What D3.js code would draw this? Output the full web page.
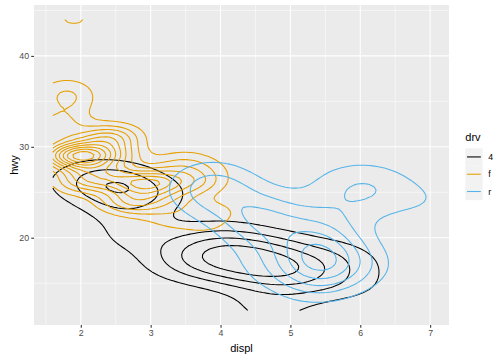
<!DOCTYPE html>
<html>
<head>
<meta charset="utf-8">
<script src="https://cdn.jsdelivr.net/npm/d3@7"></script>
<style>
  body { margin: 0; background: #fff; }
  svg { display: block; font-family: "Liberation Sans", Arial, sans-serif; }
</style>
</head>
<body>
<div id="chart"></div>
<script>
// mpg data: engine displacement, highway mpg, drive train (one entry per car)
const displ = [
  1.8,1.8,2.0,2.0,2.8,2.8,3.1,1.8,1.8,2.0,2.0,2.8,2.8,3.1,3.1,2.8,3.1,4.2,
  5.3,5.3,5.3,5.7,6.0,5.7,5.7,6.2,6.2,7.0,5.3,5.3,5.7,6.5,2.4,2.4,3.1,3.5,3.6,
  2.4,3.0,3.3,3.3,3.3,3.3,3.3,3.8,3.8,3.8,4.0,
  3.7,3.7,3.9,3.9,4.7,4.7,4.7,5.2,5.2,
  3.9,4.7,4.7,4.7,5.2,5.7,5.9,
  4.7,4.7,4.7,4.7,4.7,4.7,5.2,5.2,5.7,5.9,
  4.6,5.4,5.4,4.0,4.0,4.0,4.0,4.6,5.0,4.2,4.2,4.6,4.6,4.6,5.4,5.4,
  3.8,3.8,4.0,4.0,4.6,4.6,4.6,4.6,5.4,
  1.6,1.6,1.6,1.6,1.6,1.8,1.8,1.8,2.0,
  2.4,2.4,2.4,2.4,2.5,2.5,3.3,2.0,2.0,2.0,2.0,2.7,2.7,2.7,
  3.0,3.7,4.0,4.7,4.7,4.7,5.7,6.1,
  4.0,4.2,4.4,4.6,
  5.4,5.4,5.4,
  4.0,4.0,4.6,5.0,
  2.4,2.4,2.5,2.5,3.5,3.5,3.0,3.0,3.5,3.3,3.3,4.0,5.6,
  3.1,3.8,3.8,3.8,5.3,
  2.5,2.5,2.5,2.5,2.5,2.5,2.2,2.2,2.5,2.5,2.5,2.5,2.5,2.5,
  2.7,2.7,3.4,3.4,4.0,4.7,2.2,2.2,2.4,2.4,3.0,3.0,3.5,
  2.2,2.2,2.4,2.4,3.0,3.0,3.3,1.8,1.8,1.8,1.8,1.8,4.7,5.7,
  2.7,2.7,2.7,3.4,3.4,4.0,4.0,
  2.0,2.0,2.0,2.0,2.8,1.9,2.0,2.0,2.0,2.0,2.5,2.5,2.8,2.8,
  1.9,1.9,2.0,2.0,2.5,2.5,1.8,1.8,2.0,2.0,2.8,2.8,3.6
];
const hwy = [
  29,29,31,30,26,26,27,26,25,28,27,25,25,25,25,24,25,23,
  20,15,20,17,17,26,23,26,25,24,19,14,15,17,27,30,26,29,26,
  24,24,22,22,24,24,17,22,21,23,23,
  19,18,17,17,19,19,12,17,15,
  17,17,12,17,16,18,15,
  16,12,17,17,16,12,15,16,17,15,
  17,17,18,17,19,17,19,19,17,17,17,16,16,17,15,17,
  26,25,26,24,21,22,23,22,20,
  33,32,32,29,32,34,36,36,29,
  26,27,30,31,26,26,28,26,29,28,27,24,24,24,
  22,19,20,17,12,19,18,14,
  15,18,18,15,
  17,16,18,
  17,19,19,17,
  29,27,31,32,27,26,26,25,25,17,17,20,18,
  26,26,27,28,25,
  25,24,27,25,26,23,26,26,26,26,27,23,27,26,
  20,20,19,17,20,19,29,27,31,31,26,26,28,
  27,29,31,31,26,26,27,30,33,35,37,35,15,18,
  20,20,22,17,19,18,20,
  29,26,29,29,24,44,29,26,29,29,29,29,23,24,
  44,41,29,26,28,29,29,29,28,29,26,26,26
];
const drv = [
  "f","f","f","f","f","f","f","4","4","4","4","4","4","4","4","4","4","4",
  "r","r","r","r","r","r","r","r","r","r","4","4","4","4","f","f","f","f","f",
  "f","f","f","f","f","f","f","f","f","f","f",
  "4","4","4","4","4","4","4","4","4",
  "4","4","4","4","4","4","4",
  "4","4","4","4","4","4","4","4","4","4",
  "r","r","r","4","4","4","4","4","4","4","4","4","4","4","4","4",
  "r","r","r","r","r","r","r","r","r",
  "f","f","f","f","f","f","f","f","f",
  "f","f","f","f","f","f","f","f","f","f","f","f","f","f",
  "4","4","4","4","4","4","4","4",
  "4","4","4","4",
  "r","r","r",
  "4","4","4","4",
  "f","f","f","f","f","f","f","f","f","4","4","4","4",
  "f","f","f","f","f",
  "4","4","4","4","4","4","4","4","4","4","4","4","4","4",
  "4","4","4","4","4","4","f","f","f","f","f","f","f",
  "f","f","f","f","f","f","f","f","f","f","f","f","4","4",
  "4","4","4","4","4","4","4",
  "f","f","f","f","f","f","f","f","f","f","f","f","f","f",
  "f","f","f","f","f","f","f","f","f","f","f","f","f"
];

const groups = ["4", "f", "r"];
const groupColors = ["#000000", "#E69F00", "#56B4E9"];
const xTicks = [2, 3, 4, 5, 6, 7];
const yTicks = [20, 30, 40];

const W = 504, H = 360;
const panel = { left: 34, right: 449, top: 5, bottom: 325 };
const N = 100; // kde grid size, as MASS::kde2d default in ggplot

// MASS::bandwidth.nrd
function bandwidthNrd(v) {
  const s = v.slice().sort(d3.ascending);
  const iqr = (d3.quantile(s, 0.75) - d3.quantile(s, 0.25)) / 1.34;
  return 4 * 1.06 * Math.min(d3.deviation(v), iqr) * Math.pow(v.length, -1 / 5);
}

// R's pretty() with default bias, enough for contour breaks
function rPretty(lo, hi, n) {
  const cell = (hi - lo) / n;
  const U = Math.pow(10, Math.floor(Math.log10(cell)));
  let unit = U;
  if (2 * U - cell < 1.5 * (cell - unit)) {
    unit = 2 * U;
    if (5 * U - cell < 2.75 * (cell - unit)) {
      unit = 5 * U;
      if (10 * U - cell < 1.5 * (cell - unit)) unit = 10 * U;
    }
  }
  const a = Math.floor(lo / unit + 1e-7), b = Math.ceil(hi / unit - 1e-7);
  return d3.range(a, b + 1).map(k => k * unit);
}

const xLim = d3.extent(displ), yLim = d3.extent(hwy);
const gx = d3.range(N).map(i => xLim[0] + i * (xLim[1] - xLim[0]) / (N - 1));
const gy = d3.range(N).map(j => yLim[0] + j * (yLim[1] - yLim[0]) / (N - 1));
const dnorm = u => Math.exp(-0.5 * u * u) / Math.sqrt(2 * Math.PI);

// 2d kernel density per drive train
const dens = groups.map(g => {
  const idx = d3.range(displ.length).filter(i => drv[i] === g);
  const xs = idx.map(i => displ[i]), ys = idx.map(i => hwy[i]);
  const h1 = bandwidthNrd(xs) / 4, h2 = bandwidthNrd(ys) / 4;
  const ax = gx.map(v => xs.map(x => dnorm((v - x) / h1)));
  const ay = gy.map(v => ys.map(y => dnorm((v - y) / h2)));
  const values = new Float64Array(N * N);
  for (let j = 0; j < N; j++) {
    for (let i = 0; i < N; i++) {
      let s = 0;
      for (let k = 0; k < xs.length; k++) s += ax[i][k] * ay[j][k];
      values[j * N + i] = s / (xs.length * h1 * h2);
    }
  }
  return values;
});

const zRange = [d3.min(dens, v => d3.min(v)), d3.max(dens, v => d3.max(v))];
const breaks = rPretty(zRange[0], zRange[1], 10);

// grid coordinate -> data value (d3.contours puts grid index i at i + 0.5)
const toX = c => xLim[0] + (c - 0.5) * (xLim[1] - xLim[0]) / (N - 1);
const toY = c => yLim[0] + (c - 0.5) * (yLim[1] - yLim[0]) / (N - 1);

// d3 closes rings along the grid edge; cut those parts away so lines stay open
function openLines(ring) {
  const onEdge = p => p[0] === 0 || p[0] === N || p[1] === 0 || p[1] === N;
  let pts = ring;
  const f = ring[0], l = ring[ring.length - 1];
  if (f[0] === l[0] && f[1] === l[1]) pts = ring.slice(0, -1);
  const k = pts.findIndex(onEdge);
  if (k < 0) return [ring];
  const rot = pts.slice(k).concat(pts.slice(0, k));
  const out = [];
  let cur = [];
  rot.forEach(p => {
    if (onEdge(p)) { if (cur.length > 1) out.push(cur); cur = []; }
    else cur.push(p);
  });
  if (cur.length > 1) out.push(cur);
  return out;
}

const contourGen = d3.contours().size([N, N]);
const lines = [];
groups.forEach((g, gi) => {
  breaks.forEach(b => {
    const mp = contourGen.contour(dens[gi], b);
    mp.coordinates.forEach(poly => poly.forEach(ring => {
      openLines(ring).forEach(line => {
        lines.push({ group: gi, pts: line.map(p => [toX(p[0]), toY(p[1])]) });
      });
    }));
  });
});

// position scales over the density grid, with ggplot's 5% expansion
const xPad = (xLim[1] - xLim[0]) * 0.05, yPad = (yLim[1] - yLim[0]) * 0.05;
const x = d3.scaleLinear().domain([xLim[0] - xPad, xLim[1] + xPad]).range([panel.left, panel.right]);
const y = d3.scaleLinear().domain([yLim[0] - yPad, yLim[1] + yPad]).range([panel.bottom, panel.top]);

const svg = d3.select("#chart").append("svg")
  .attr("width", W)
  .attr("height", H);

svg.append("rect")
  .attr("x", panel.left).attr("y", panel.top)
  .attr("width", panel.right - panel.left).attr("height", panel.bottom - panel.top)
  .attr("fill", "#EBEBEB");

// grid lines
const xMinor = d3.range(Math.ceil(x.domain()[0] * 2) / 2, x.domain()[1], 1).filter(v => v % 1 !== 0);
const yMinor = d3.range(5, y.domain()[1], 10).filter(v => v > y.domain()[0]);
const grid = svg.append("g");
grid.selectAll(".xminor").data(xMinor).enter().append("line")
  .attr("x1", d => x(d)).attr("x2", d => x(d))
  .attr("y1", panel.top).attr("y2", panel.bottom)
  .attr("stroke", "#fff").attr("stroke-width", 0.53);
grid.selectAll(".yminor").data(yMinor).enter().append("line")
  .attr("y1", d => y(d)).attr("y2", d => y(d))
  .attr("x1", panel.left).attr("x2", panel.right)
  .attr("stroke", "#fff").attr("stroke-width", 0.53);
grid.selectAll(".xmajor").data(xTicks).enter().append("line")
  .attr("x1", d => x(d)).attr("x2", d => x(d))
  .attr("y1", panel.top).attr("y2", panel.bottom)
  .attr("stroke", "#fff").attr("stroke-width", 1.07);
grid.selectAll(".ymajor").data(yTicks).enter().append("line")
  .attr("y1", d => y(d)).attr("y2", d => y(d))
  .attr("x1", panel.left).attr("x2", panel.right)
  .attr("stroke", "#fff").attr("stroke-width", 1.07);

// contour lines
const lineGen = d3.line().x(d => x(d[0])).y(d => y(d[1]));
svg.append("g")
  .selectAll("path")
  .data(lines)
  .enter()
  .append("path")
  .attr("d", d => lineGen(d.pts))
  .attr("fill", "none")
  .attr("stroke", d => groupColors[d.group])
  .attr("stroke-width", 1.07)
  .attr("stroke-linejoin", "round");

// axes
const xAxis = svg.append("g")
  .attr("transform", `translate(0,${panel.bottom})`)
  .call(d3.axisBottom(x).tickValues(xTicks).tickSize(2.75).tickPadding(2.2).tickFormat(d3.format("d")));
const yAxis = svg.append("g")
  .attr("transform", `translate(${panel.left},0)`)
  .call(d3.axisLeft(y).tickValues(yTicks).tickSize(2.75).tickPadding(2.2).tickFormat(d3.format("d")));
[xAxis, yAxis].forEach(a => {
  a.select(".domain").remove();
  a.selectAll(".tick line").attr("stroke", "#333333").attr("stroke-width", 1.07);
  a.selectAll(".tick text").attr("fill", "#4D4D4D").style("font-size", "8.8px")
    .style("font-family", "Liberation Sans, Arial, sans-serif");
});

svg.append("text")
  .attr("x", (panel.left + panel.right) / 2)
  .attr("y", 352)
  .attr("text-anchor", "middle")
  .style("font-size", "11px")
  .text("displ");

svg.append("text")
  .attr("transform", `translate(17.5,${(panel.top + panel.bottom) / 2}) rotate(-90)`)
  .attr("text-anchor", "middle")
  .style("font-size", "11px")
  .text("hwy");

// legend
const legend = svg.append("g").attr("transform", "translate(465.3,148.3)");
legend.append("text")
  .attr("x", 0).attr("y", -7.5)
  .style("font-size", "11px")
  .text("drv");
const keys = legend.selectAll(".key").data(groups).enter().append("g")
  .attr("transform", (d, i) => `translate(0,${i * 17.28})`);
keys.append("rect")
  .attr("width", 17.28).attr("height", 17.28)
  .attr("fill", "#F2F2F2");
keys.append("line")
  .attr("x1", 1.73).attr("x2", 15.55)
  .attr("y1", 8.64).attr("y2", 8.64)
  .attr("stroke", (d, i) => groupColors[i])
  .attr("stroke-width", 1.07);
keys.append("text")
  .attr("x", 23)
  .attr("y", 8.64)
  .attr("dy", "0.35em")
  .style("font-size", "8.8px")
  .text(d => d);
</script>
</body>
</html>
